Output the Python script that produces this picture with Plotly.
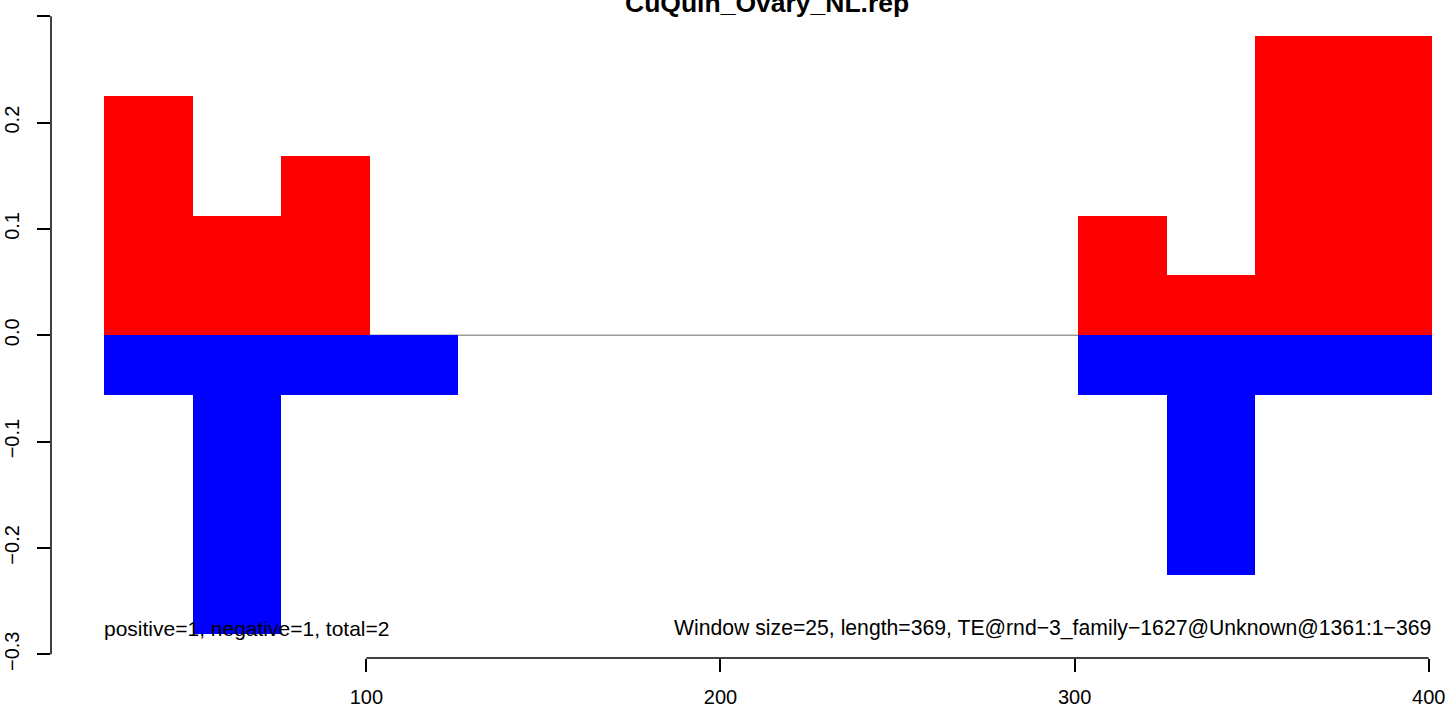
import plotly.graph_objects as go

# ---- data ----
window_starts = [26, 51, 76, 101, 301, 326, 351, 376]
window_size = 25
positive_vals = [0.225, 0.1125, 0.16875, 0.0, 0.1125, 0.05625, 0.28125, 0.28125]
negative_vals = [-0.05625, -0.28125, -0.05625, -0.05625, -0.05625, -0.225, -0.05625, -0.05625]
x_ticks = [100, 200, 300, 400]
y_ticks = [-0.3, -0.2, -0.1, 0.0, 0.1, 0.2, 0.3]
y_tick_labels = ["\u22120.3", "\u22120.2", "\u22120.1", "0.0", "0.1", "0.2", "0.3"]
title_text = "CuQuin_Ovary_NL.rep"
left_note = "positive=1, negative=1, total=2"
right_note = "Window size=25, length=369, TE@rnd\u22123_family\u22121627@Unknown@1361:1\u2212369"

FONT = "Liberation Sans, Arial, Helvetica, sans-serif"
W, H = 1449, 706
L, R, T, B = 51, 9, 0, 48

x_range = [10.96, 403.19]
y_range = [-0.3035, 0.3153]

fig = go.Figure()
fig.add_trace(go.Bar(x=window_starts, y=positive_vals, base=0, width=window_size, offset=0,
                     marker=dict(color="#FF0000", line=dict(width=0)), showlegend=False,
                     hoverinfo="skip"))
fig.add_trace(go.Bar(x=window_starts, y=negative_vals, base=0, width=window_size, offset=0,
                     marker=dict(color="#0000FF", line=dict(width=0)), showlegend=False,
                     hoverinfo="skip"))

shapes = [
    dict(type="line", xref="x", yref="y", x0=window_starts[0], x1=window_starts[-1] + window_size,
         y0=0, y1=0, line=dict(color="#9a9a9a", width=1.5), layer="below"),
    dict(type="line", xref="paper", yref="y", x0=0, x1=0, y0=y_ticks[0], y1=y_ticks[-1],
         line=dict(color="black", width=1.5)),
    dict(type="line", xref="x", yref="paper", x0=x_ticks[0], x1=x_ticks[-1], y0=0, y1=0,
         line=dict(color="black", width=1.5)),
]

annotations = [
    dict(text="<b>" + title_text + "</b>", xref="paper", yref="paper",
         x=(767.5 - L) / (W - L - R), y=1 - 3 / (H - T - B), xanchor="center", yanchor="middle",
         showarrow=False, font=dict(family=FONT, size=26.5, color="black")),
    dict(text=left_note, xref="x", yref="y", x=window_starts[0] - 0.6, y=-0.2753,
         xanchor="left", yanchor="middle", showarrow=False,
         font=dict(family=FONT, size=21, color="black")),
    dict(text=right_note, xref="x", yref="y", x=window_starts[-1] + window_size + 0.3, y=-0.2753,
         xanchor="right", yanchor="middle", showarrow=False,
         font=dict(family=FONT, size=21.2, color="black")),
]

fig.update_layout(
    width=W, height=H,
    margin=dict(l=L, r=R, t=T, b=B, pad=0, autoexpand=False),
    paper_bgcolor="white", plot_bgcolor="white",
    barmode="overlay", bargap=0,
    shapes=shapes, annotations=annotations,
    xaxis=dict(range=x_range, showgrid=False, zeroline=False, showline=False, automargin=False,
               tickmode="array", tickvals=x_ticks, ticktext=[str(v) for v in x_ticks],
               ticks="outside", ticklen=13, tickwidth=1.5, tickcolor="black",
               ticklabelstandoff=8,
               tickfont=dict(family=FONT, size=20, color="black")),
    yaxis=dict(range=y_range, showgrid=False, zeroline=False, showline=False, automargin=False,
               tickmode="array", tickvals=y_ticks, ticktext=y_tick_labels,
               ticks="outside", ticklen=13, tickwidth=1.5, tickcolor="black",
               tickangle=-90, ticklabelstandoff=10,
               tickfont=dict(family=FONT, size=20, color="black")),
)

fig.write_html("out.html", config={"displayModeBar": False},
               post_script="document.body.style.margin='0';document.body.style.overflow='hidden';")
